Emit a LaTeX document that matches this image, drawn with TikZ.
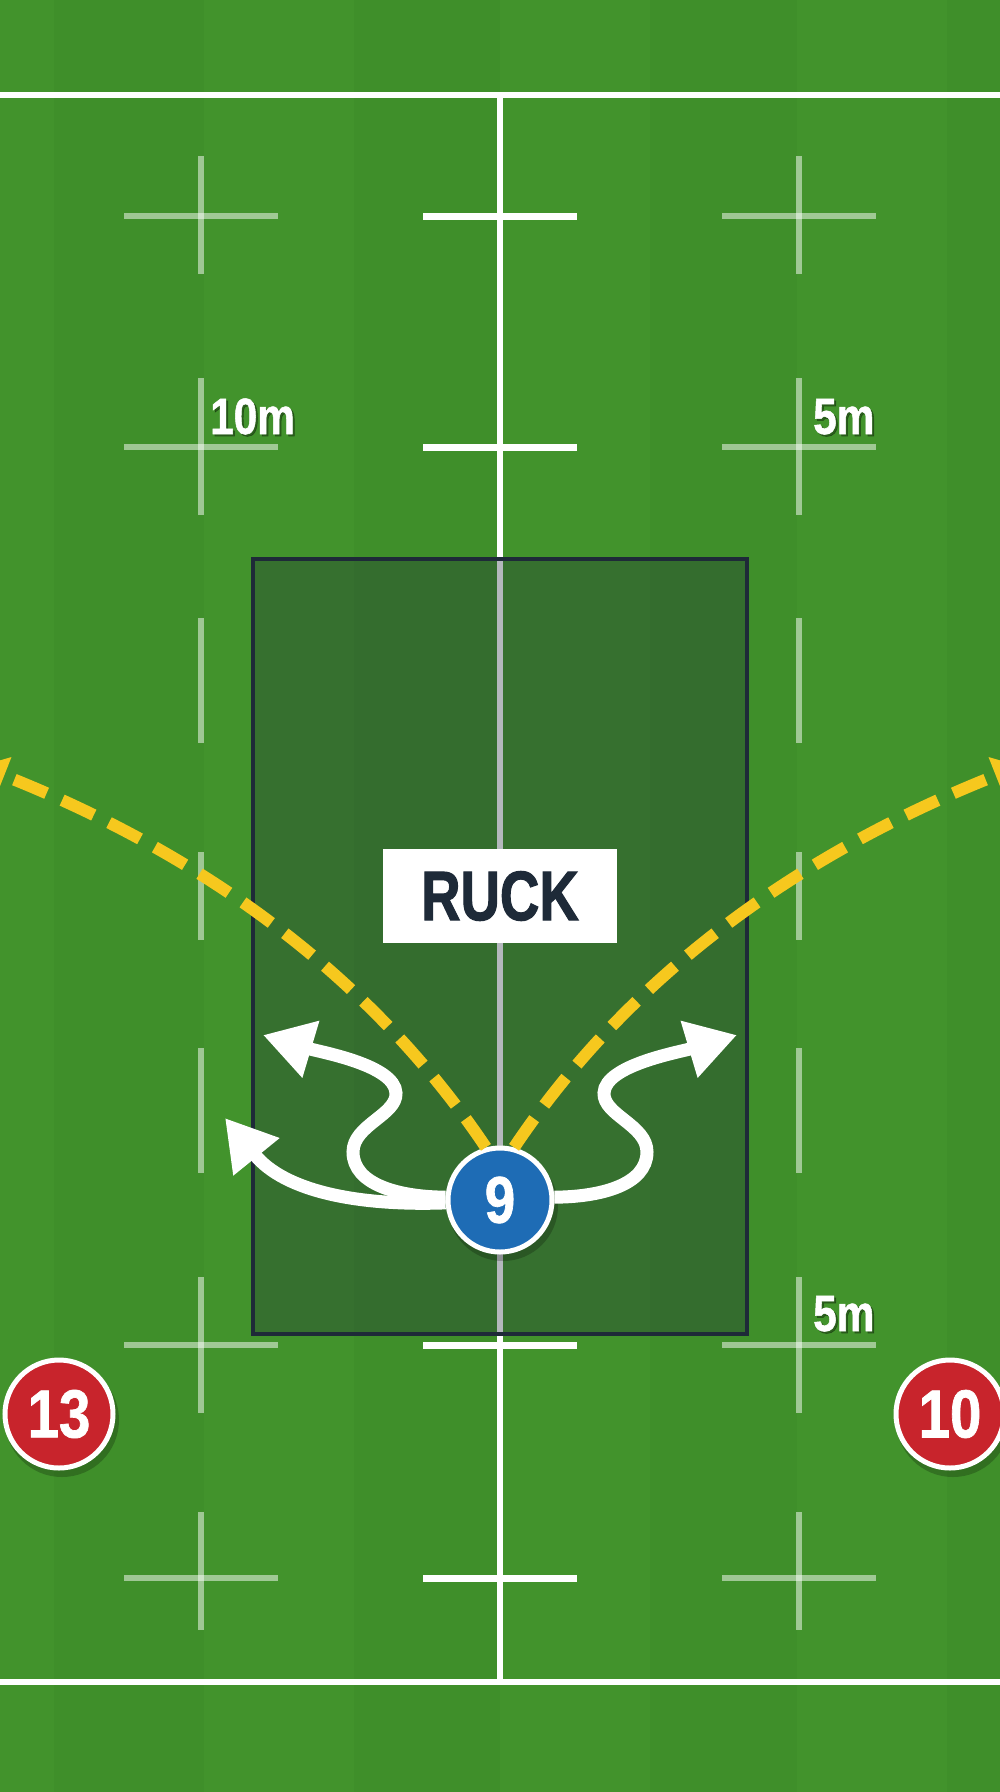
\documentclass[tikz,border=0pt]{standalone}
\usepackage{fontspec}
\newfontfamily\condf[FakeStretch=0.83,FakeBold=1]{Liberation Sans}
\newfontfamily\ruckf[FakeStretch=0.78,FakeBold=1.5]{Liberation Sans}
\usetikzlibrary{arrows.meta}
\definecolor{grassA}{RGB}{63,143,42}
\definecolor{grassB}{RGB}{66,147,44}
\definecolor{navy}{RGB}{30,42,56}
\definecolor{pblue}{RGB}{30,108,181}
\definecolor{pred}{RGB}{200,36,44}
\definecolor{ylw}{RGB}{246,200,30}
\tikzset{
  fieldline/.style={white, line width=6pt},
  tickline/.style={white, line width=7pt},
  markline/.style={white, opacity=0.5, line width=6pt},
  zonefill/.style={fill=navy, fill opacity=0.33},
  zoneedge/.style={draw=navy, line width=3.5pt},
  ruckbox/.style={fill=white, minimum width=234pt, minimum height=94pt, inner sep=0pt,
    text=navy, font=\ruckf\bfseries\fontsize{70}{70}\selectfont},
  bluep/.style={circle, fill=pblue, draw=white, line width=5pt, minimum size=104pt, inner sep=0pt,
    text=white, font=\condf\bfseries\fontsize{66}{66}\selectfont},
  redp/.style={circle, fill=pred, draw=white, line width=5pt, minimum size=108pt, inner sep=0pt,
    text=white, font=\condf\bfseries\fontsize{68}{68}\selectfont},
  pshadow/.style={fill=black, opacity=0.22},
  distlbl/.style={inner sep=0pt, anchor=base west, text=white, font=\condf\bfseries\fontsize{51}{51}\selectfont},
  distshadow/.style={inner sep=0pt, anchor=base west, text=black, opacity=0.35, font=\condf\bfseries\fontsize{51}{51}\selectfont},
  passline/.style={ylw, line width=12pt, dash pattern=on 35pt off 17pt, -{Triangle[length=26pt,width=38pt]}},
  runarrow/.style={white, line width=13pt, -{Triangle[length=50pt,width=56pt]}}
}
\begin{document}
\begin{tikzpicture}[x=1pt,y=-1pt]
\useasboundingbox (0,0) rectangle (1000,1792);
\clip (0,0) rectangle (1000,1792);
% grass stripes
\foreach \xa/\xb/\c in {0/54/grassB,54/204/grassA,204/354/grassB,354/500/grassA,500/650/grassB,650/797/grassA,797/947/grassB,947/1000/grassA}
  \fill[\c] (\xa,0) rectangle (\xb,1792);
% field lines
\draw[fieldline] (0,95) -- (1000,95);
\draw[fieldline] (0,1682) -- (1000,1682);
\draw[fieldline] (500,95) -- (500,1682);
\foreach \y in {216,447,1345,1578}
  \draw[tickline] (423,\y) -- (577,\y);
% crosses and marks
\foreach \x in {201,799}{
  \foreach \y/\ya/\yb in {216/156/274,447/378/515,1345/1277/1413,1578/1512/1630}{
    \draw[markline] (\x-77,\y) -- (\x+77,\y);
    \draw[markline] (\x,\ya) -- (\x,\yb);
  }
  \foreach \ya/\yb in {618/743,852/940,1048/1173}
    \draw[markline] (\x,\ya) -- (\x,\yb);
}
% ruck zone
\fill[zonefill] (253,559) rectangle (747,1334);
\draw[zoneedge] (253,559) rectangle (747,1334);
\node[ruckbox] (ruck) at (500,896) {RUCK};
% players
\fill[pshadow] (503,1206) circle (55);
\fill[pshadow] (62,1420) circle (57);
\fill[pshadow] (953,1420) circle (57);
\node[bluep] (p9) at (500,1200) {9};
\node[redp] (p13) at (59,1414) {13};
\node[redp] (p10) at (950,1414) {10};
% free ends
\coordinate (yl) at (-20,766);
\coordinate (yr) at (1020,766);
\coordinate (ual) at (263,1035);
\coordinate (lal) at (225,1118);
\coordinate (uar) at (737,1035);
% pass lines
\draw[passline] (p9.105) .. controls (360,960) and (180,845) .. (yl);
\draw[passline] (p9.75) .. controls (640,960) and (820,845) .. (yr);
% run arrows
\draw[runarrow] (p9.183) .. controls (360,1206) and (285,1192) .. (lal);
\draw[runarrow] (p9.177) .. controls (400,1197) and (353,1185) .. (353,1152)
  .. controls (353,1125) and (397,1115) .. (396,1093)
  .. controls (395,1065) and (320,1052) .. (ual);
\draw[runarrow] (p9.3) .. controls (600,1197) and (647,1185) .. (647,1152)
  .. controls (647,1125) and (603,1115) .. (604,1093)
  .. controls (605,1065) and (680,1052) .. (uar);
% distance labels
\node[distshadow] (s10m) at (212,436) {10m};
\node[distlbl] (l10m) at (210,434) {10m};
\node[distshadow] (s5ma) at (815,436) {5m};
\node[distlbl] (l5ma) at (813,434) {5m};
\node[distshadow] (s5mb) at (815,1333) {5m};
\node[distlbl] (l5mb) at (813,1331) {5m};
\end{tikzpicture}
\end{document}
